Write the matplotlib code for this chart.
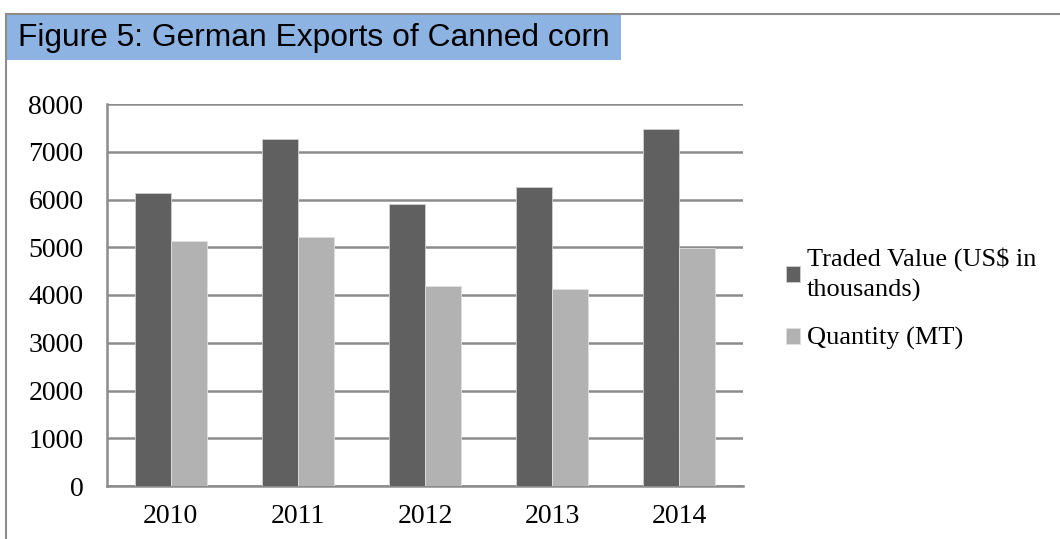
import numpy as np
import matplotlib.pyplot as plt
from matplotlib.patches import Rectangle
from matplotlib.lines import Line2D

# German exports of canned corn, 2010-2014
years = ['2010', '2011', '2012', '2013', '2014']
traded_value = [6140, 7265, 5905, 6260, 7475]   # US$ in thousands
quantity = [5130, 5215, 4185, 4125, 4985]       # MT
y_ticks = [0, 1000, 2000, 3000, 4000, 5000, 6000, 7000, 8000]

dark = '#606060'
light = '#b2b2b2'
grid_col = '#8c8c8c'
serif = ['Liberation Serif', 'DejaVu Serif']

fig = plt.figure(figsize=(10.6, 5.39), dpi=100)

# outer frame: top and left rules
fig.add_artist(Line2D([6 / 1060, 6 / 1060], [0, 1 - 14 / 539], color=grid_col, lw=1.5,
                      transform=fig.transFigure))
fig.add_artist(Line2D([6 / 1060, 1], [1 - 14 / 539, 1 - 14 / 539], color=grid_col, lw=1.5,
                      transform=fig.transFigure))

# title banner
fig.add_artist(Rectangle((7 / 1060, 1 - 60 / 539), (621 - 7) / 1060, 45 / 539,
                         facecolor='#8db3e2', edgecolor='none', transform=fig.transFigure))
fig.text(18 / 1060, 1 - 38 / 539, 'Figure 5: German Exports of Canned corn',
         family=['Liberation Sans', 'DejaVu Sans'], fontsize=22.9, va='center', ha='left')

ax = fig.add_axes([107 / 1060, 1 - 486 / 539, (743 - 107) / 1060, (486 - 104) / 539])

x = np.arange(len(years))
w = 0.283
ax.bar(x - w / 2, traded_value, w, color=dark, edgecolor='#d0d0d0', linewidth=0.6,
       label='Traded Value (US$ in\nthousands)', zorder=3)
ax.bar(x + w / 2, quantity, w, color=light, edgecolor='#e0e0e0', linewidth=0.6,
       label='Quantity (MT)', zorder=3)

ax.set_xlim(-0.5, len(years) - 0.5)
ax.set_ylim(0, 8000)
ax.set_yticks(y_ticks)
ax.set_xticks(x)
ax.set_xticklabels(years)
ax.yaxis.grid(True, color=grid_col, lw=1.8)
ax.set_axisbelow(True)

for side in ['top', 'right']:
    ax.spines[side].set_visible(False)
ax.spines['left'].set_color(grid_col)
ax.spines['left'].set_linewidth(1.8)
ax.spines['bottom'].set_color(grid_col)
ax.spines['bottom'].set_linewidth(1.8)
ax.tick_params(axis='y', length=0, pad=17)
ax.tick_params(axis='x', length=0, pad=13)
for lbl in ax.get_xticklabels() + ax.get_yticklabels():
    lbl.set_family(serif)
    lbl.set_fontsize(20)

leg = ax.legend(loc='center left', bbox_to_anchor=(1.03, 0.49), frameon=False,
                prop={'family': serif, 'size': 19}, handlelength=0.55, handleheight=0.55,
                handletextpad=0.25, labelspacing=0.95)
for t in leg.get_texts():
    t.set_linespacing(1.45)

fig.savefig('out.png', dpi=100)
